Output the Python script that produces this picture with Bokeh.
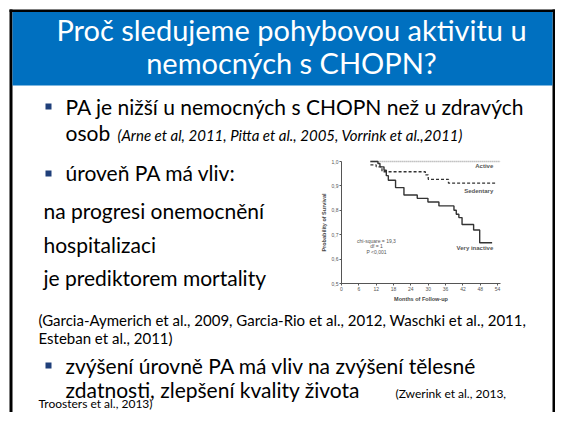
from bokeh.plotting import figure
from bokeh.models import Range1d, Label, FixedTicker, LinearAxis
from bokeh.embed import file_html
from bokeh.resources import INLINE

# ---------------- chart data ----------------
months_active = [10, 55]
surv_active = [1.0, 1.0]

months_sedentary = [10, 12, 14, 29, 30, 37, 53.3]
surv_sedentary = [0.986, 0.978, 0.958, 0.945, 0.927, 0.911, 0.911]

months_very_inactive = [10, 12.6, 13.3, 14.7, 15.5, 16.2, 18.7, 21.6, 26.2, 29.9,
                        33.7, 38.9, 39.7, 40.6, 41.7, 45.7, 47.8, 52.1]
surv_very_inactive = [1.0, 0.992, 0.978, 0.964, 0.942, 0.923, 0.893, 0.863, 0.849, 0.834,
                      0.818, 0.800, 0.784, 0.770, 0.742, 0.719, 0.667, 0.667]

series_names = ["Active", "Sedentary", "Very inactive"]
label_surv = [0.980, 0.881, 0.645]
stats_lines = ["chi-square = 19,3", "df = 1", "P <0,001"]
stats_surv = [0.676, 0.653, 0.628]

x_ticks = [0, 6, 12, 18, 24, 30, 36, 42, 48, 54]
y_ticks = [0.5, 0.6, 0.7, 0.8, 0.9, 1.0]
y_tick_labels = ["0,5", "0,6", "0,7", "0,8", "0,9", "1,0"]
x_label = "Months of Follow-up"
y_label = "Probability of Survival"
month_span = (0, 55)
surv_span = (0.5, 1.0)

# ---------------- slide texts ----------------
title_lines = ["Proč sledujeme pohybovou aktivitu u", "nemocných s CHOPN?"]
bullet1 = "PA je nižší u nemocných s CHOPN než u zdravých"
bullet1b = "osob"
cite1 = "(Arne et al, 2011, Pitta et al., 2005, Vorrink et al.,2011)"
bullet2 = "úroveň PA má vliv:"
sub_lines = ["na progresi onemocnění", "hospitalizaci", "je prediktorem mortality"]
cite2 = ["(Garcia-Aymerich et al., 2009, Garcia-Rio et al., 2012, Waschki et al., 2011,",
         "Esteban et al., 2011)"]
bullet3 = "zvýšení úrovně PA má vliv na zvýšení tělesné"
bullet3b = "zdatnosti, zlepšení kvality života"
cite3 = ["(Zwerink et al., 2013,", "Troosters et al., 2013)"]

FONT = "Lato"
BLUE = "#0070C0"
NAVY = "#1F3F7A"

# slide canvas in picture pixels (y grows downward)
WID, HGT = 555, 412
p = figure(width=WID, height=HGT, x_range=Range1d(0, WID), y_range=Range1d(HGT, 0),
           output_backend="svg", toolbar_location=None, min_border=0,
           x_axis_type=None, y_axis_type=None)
p.grid.visible = False
p.outline_line_color = None
p.background_fill_color = "white"
p.border_fill_color = "white"

# plot-area placement of the survival chart (picture pixels)
CL, CR, CT, CB = 341, 500, 161, 283
mpp = (month_span[1] - month_span[0]) / (CR - CL)
spp = (surv_span[1] - surv_span[0]) / (CB - CT)
p.extra_x_ranges = {"months": Range1d(month_span[0] - CL * mpp,
                                      month_span[1] + (WID - CR) * mpp)}
p.extra_y_ranges = {"surv": Range1d(surv_span[0] - (HGT - CB) * spp,
                                    surv_span[1] + CT * spp)}


def deco(l, r, t, b, color):
    p.quad(left=[l], right=[r], top=[t], bottom=[b], fill_color=color, line_color=None)


def txt(x, base, s, size, color="#000000", style="normal", align="left"):
    # place by the text's baseline: convert to the em-box middle
    p.add_layout(Label(x=x, y=base - 0.37 * size, text=s, text_font=FONT,
                       text_font_size=f"{size}px", text_color=color,
                       text_font_style=style, text_align=align, text_baseline="middle"))


# slide frame and header
deco(9, 12, 9, HGT, "black")
deco(552, 555, 9, HGT, "black")
deco(9, 555, 9, 11.5, "black")
deco(12, 552, 11.5, 85, BLUE)
txt(291, 40, title_lines[0], 29, "white", align="center")
txt(291, 73, title_lines[1], 29, "white", align="center")

# bullets
deco(45, 51, 103, 109, NAVY)
txt(65, 114, bullet1, 21)
txt(65, 140, bullet1b, 21)
txt(117, 140, cite1, 15, style="italic")
deco(45, 51, 170, 176, NAVY)
txt(65, 180, bullet2, 21)
for s, yb in zip(sub_lines, [218, 252, 285]):
    txt(43, yb, s, 21)
txt(38, 325, cite2[0], 15)
txt(38, 343, cite2[1], 15)
deco(45, 51, 362, 368, NAVY)
txt(65, 373, bullet3, 21)
txt(65, 397, bullet3b, 21)
txt(395, 397, cite3[0], 12)
txt(38, 407, cite3[1], 12)

# ---------------- the survival chart ----------------
xaxis = LinearAxis(x_range_name="months", y_range_name="surv", fixed_location=surv_span[0],
                   bounds=month_span, ticker=FixedTicker(ticks=x_ticks), axis_label=x_label)
yaxis = LinearAxis(x_range_name="months", y_range_name="surv", fixed_location=month_span[0],
                   bounds=surv_span, ticker=FixedTicker(ticks=y_ticks), axis_label=y_label,
                   major_label_overrides=dict(zip(y_ticks, y_tick_labels)))
for ax in (xaxis, yaxis):
    ax.axis_line_color = "#555555"
    ax.axis_line_width = 1
    ax.major_tick_line_color = "#555555"
    ax.major_tick_out = 2
    ax.major_tick_in = 0
    ax.minor_tick_line_color = None
    ax.major_label_text_font = "Liberation Sans"
    ax.major_label_text_font_size = "5px"
    ax.major_label_text_color = "#555555"
    ax.major_label_standoff = 1
    ax.axis_label_text_font = "Liberation Sans"
    ax.axis_label_text_font_size = "5.5px"
    ax.axis_label_text_font_style = "bold"
    ax.axis_label_text_color = "#444444"
    ax.axis_label_standoff = 2
p.add_layout(xaxis, "below")
p.add_layout(yaxis, "left")

kw = dict(x_range_name="months", y_range_name="surv", mode="after")
p.step(x=months_active, y=surv_active, line_color="#9a9a9a", line_dash="1 1",
       line_width=1.3, **kw)
p.step(x=months_sedentary, y=surv_sedentary, line_color="#333333", line_dash="3 2",
       line_width=1.3, **kw)
p.step(x=months_very_inactive, y=surv_very_inactive, line_color="#333333",
       line_width=1.4, **kw)
for name, yv in zip(series_names, label_surv):
    p.add_layout(Label(x=52.5, y=yv, x_range_name="months", y_range_name="surv", text=name,
                       text_font="Liberation Sans", text_font_size="6px",
                       text_font_style="bold", text_color="#555555",
                       text_align="right", text_baseline="middle"))
for s, yv in zip(stats_lines, stats_surv):
    p.add_layout(Label(x=12.1, y=yv, x_range_name="months", y_range_name="surv", text=s,
                       text_font="Liberation Sans", text_font_size="5px",
                       text_color="#555555", text_align="center", text_baseline="middle"))

open("out.html", "w").write(file_html(p, INLINE))
